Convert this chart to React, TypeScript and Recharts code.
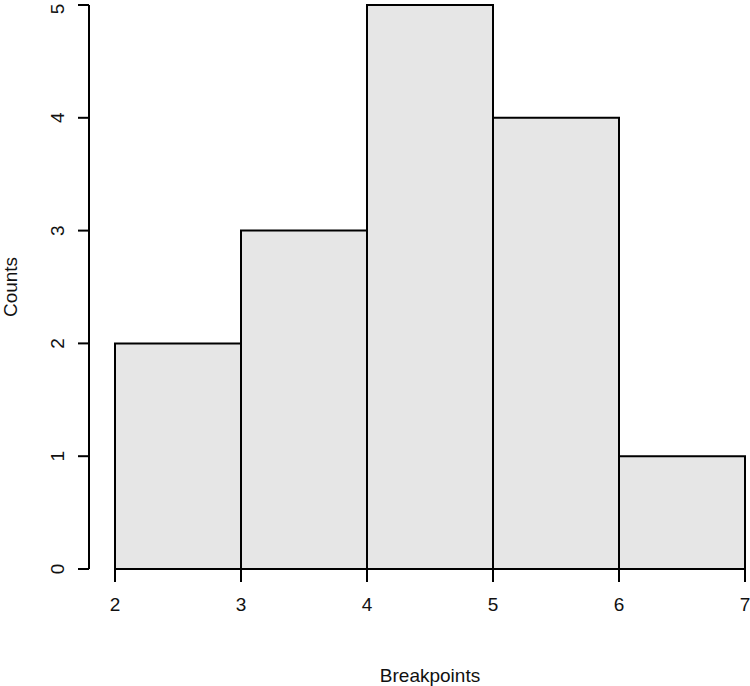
import { BarChart, Bar, XAxis, YAxis } from "recharts";

// histogram bins (left edge .. right edge) and counts
const binStarts = [2, 3, 4, 5, 6];
const binEnds = [3, 4, 5, 6, 7];
const counts = [2, 3, 5, 4, 1];
const xTicks = [2, 3, 4, 5, 6, 7];
const yTicks = [0, 1, 2, 3, 4, 5];

const data = binStarts.map((s, i) => ({
  mid: (s + binEnds[i]) / 2,
  count: counts[i],
}));

const FONT = '"Liberation Sans", Arial, Helvetica, sans-serif';
const PAD_LEFT = 26;

const YTick = (props: any) => {
  const { x, y, payload } = props;
  return (
    <text
      x={x}
      y={y}
      transform={`rotate(-90, ${x}, ${y})`}
      textAnchor="middle"
      fontSize={19}
      fontFamily={FONT}
      fill="#111"
    >
      {payload.value}
    </text>
  );
};

export default function App() {
  return (
    <div style={{ position: "absolute", left: 0, top: 0, background: "#fff" }}>
      <BarChart
        width={750}
        height={686}
        data={data}
        barCategoryGap={0}
        margin={{ top: 5, right: 5, left: 0, bottom: 0 }}
      >
        <XAxis
          dataKey="mid"
          type="number"
          domain={[2, 7]}
          ticks={xTicks}
          padding={{ left: PAD_LEFT, right: 0 }}
          height={117}
          axisLine={false}
          tickLine={{ stroke: "#000", strokeWidth: 2 }}
          tickSize={13}
          tickMargin={16}
          tick={{ fill: "#111", fontSize: 19, fontFamily: FONT }}
          label={({ viewBox }: any) => (
            <text
              x={viewBox.x + PAD_LEFT + (viewBox.width - PAD_LEFT) / 2}
              y={viewBox.y + 113}
              textAnchor="middle"
              fontSize={19}
              fontFamily={FONT}
              fill="#111"
            >
              Breakpoints
            </text>
          )}
        />
        <YAxis
          type="number"
          domain={[0, 5]}
          ticks={yTicks}
          width={89}
          axisLine={{ stroke: "#000", strokeWidth: 2 }}
          tickLine={{ stroke: "#000", strokeWidth: 2 }}
          tickSize={11}
          tickMargin={14}
          tick={<YTick />}
          label={({ viewBox }: any) => {
            const cx = viewBox.x + 17;
            const cy = viewBox.y + viewBox.height / 2;
            return (
              <text
                x={cx}
                y={cy}
                transform={`rotate(-90, ${cx}, ${cy})`}
                textAnchor="middle"
                fontSize={19}
                fontFamily={FONT}
                fill="#111"
              >
                Counts
              </text>
            );
          }}
        />
        <Bar
          dataKey="count"
          fill="#e6e6e6"
          stroke="#000"
          strokeWidth={2}
          isAnimationActive={false}
        />
      </BarChart>
    </div>
  );
}
